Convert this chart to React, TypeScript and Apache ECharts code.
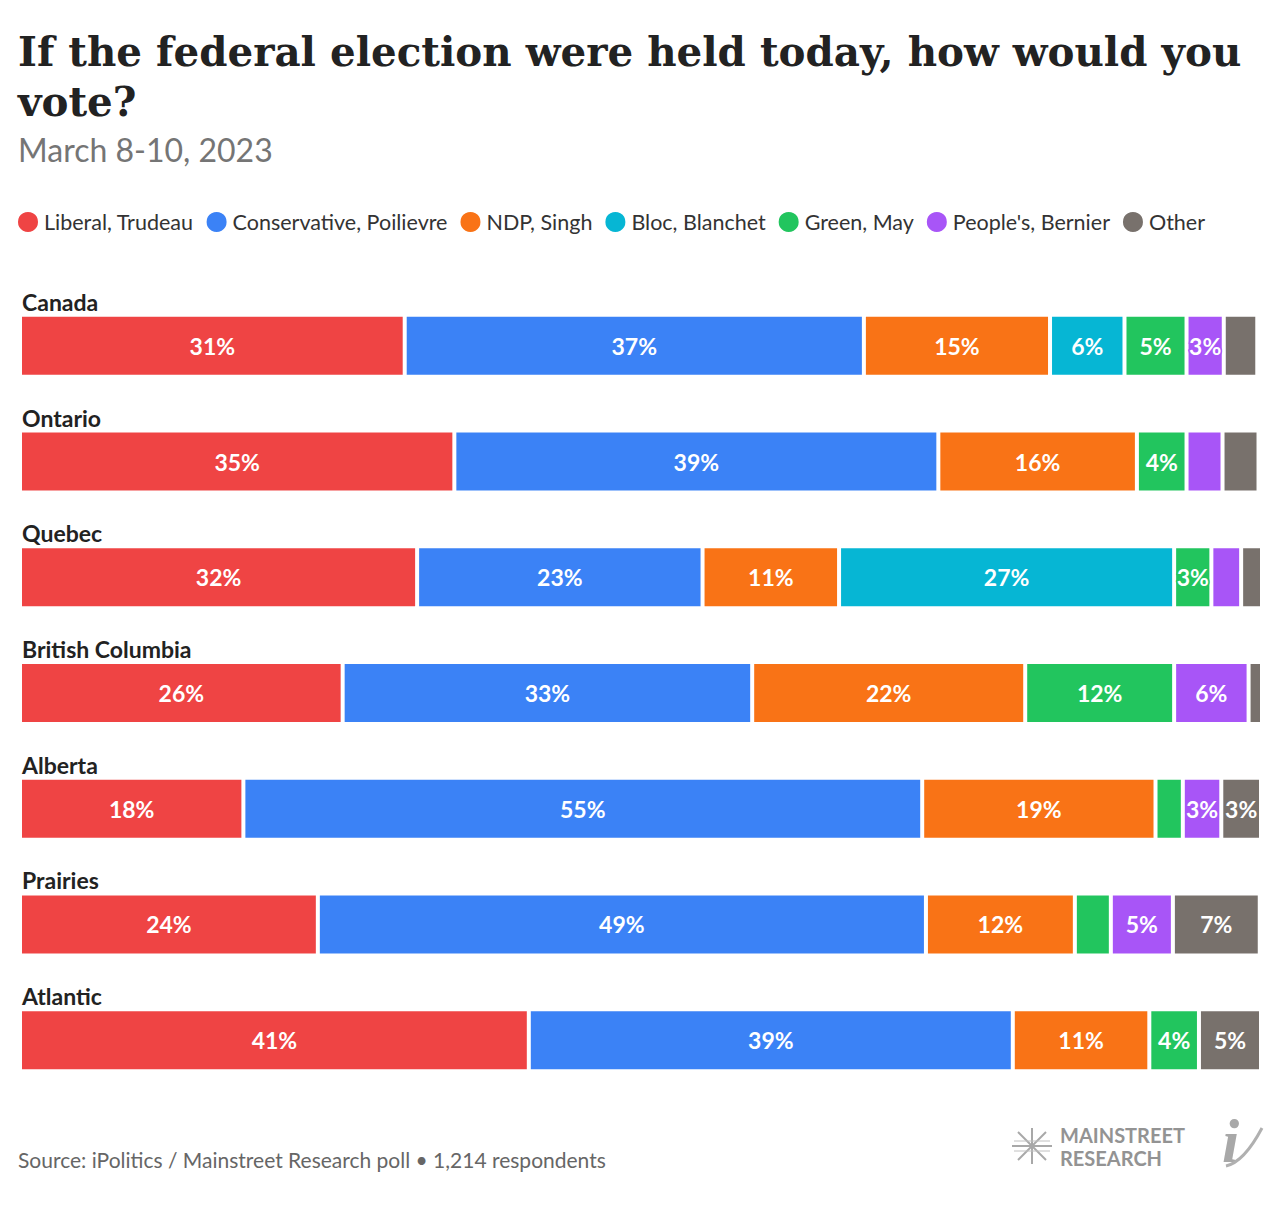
import React, { useEffect, useRef } from "react";
import * as echarts from "echarts";

const regions = ["Canada", "Ontario", "Quebec", "British Columbia", "Alberta", "Prairies", "Atlantic"];
const parties = [
  "Liberal, Trudeau",
  "Conservative, Poilievre",
  "NDP, Singh",
  "Bloc, Blanchet",
  "Green, May",
  "People's, Bernier",
  "Other",
];
const colors = ["#EF4444", "#3B82F6", "#F97316", "#06B6D4", "#22C55E", "#A855F7", "#78716C"];

// values per party, in region order (unlabelled slivers estimated from their widths)
const liberal = [31, 35, 32, 26, 18, 24, 41];
const conservative = [37, 39, 23, 33, 54.7, 49, 39];
const ndp = [15, 16, 11, 22, 18.8, 12, 11];
const bloc = [6, 0, 27, 0, 0, 0, 0];
const green = [5, 4, 3, 12, 2.2, 2.9, 4];
const peoples = [3, 2.9, 2.4, 6, 3.1, 5, 0];
const other = [2.7, 2.9, 1.8, 1.1, 3.2, 7, 5];

const seriesValues = [liberal, conservative, ndp, bloc, green, peoples, other];

const SANS = "Lato, 'Noto Sans', sans-serif";

export default function App() {
  const ref = useRef<HTMLDivElement>(null);
  useEffect(() => {
    if (!ref.current) return;
    const chart = echarts.init(ref.current, null, { renderer: "svg" });
    const series = parties.map((name, i) => ({
      name,
      type: "bar",
      stack: "total",
      barWidth: 62,
      data: seriesValues[i],
      itemStyle: { color: colors[i], borderColor: "#ffffff", borderWidth: 2 },
      label: {
        show: true,
        position: "inside",
        formatter: (p: any) => (p.value >= 3 ? Math.round(p.value) + "%" : ""),
        color: "#ffffff",
        fontWeight: "bold",
        fontSize: 23,
        fontFamily: SANS,
        textBorderColor: colors[i],
        textBorderWidth: 3,
      },
      emphasis: { disabled: true },
    }));
    chart.setOption({
      animation: false,
      backgroundColor: "#ffffff",
      color: colors,
      legend: {
        left: 16,
        top: 210,
        padding: 0,
        icon: "circle",
        itemWidth: 22,
        itemHeight: 22,
        itemGap: 11,
        selectedMode: false,
        textStyle: { fontSize: 21.5, color: "#333333", fontFamily: SANS },
        data: parties,
      },
      grid: { left: 20, right: 19, top: 288, bottom: 110, containLabel: false },
      xAxis: { type: "value", min: 0, max: 100, show: false },
      yAxis: {
        type: "category",
        data: regions,
        inverse: true,
        axisLine: { show: false },
        axisTick: { show: false },
        splitLine: { show: false },
        axisLabel: {
          inside: true,
          margin: 2,
          align: "left",
          verticalAlign: "bottom",
          padding: [0, 0, 32, 0],
          lineHeight: 24,
          fontSize: 23,
          fontWeight: "bold",
          color: "#222222",
          fontFamily: SANS,
        },
      },
      series,
      graphic: [
        {
          type: "text",
          left: 18,
          top: 27,
          style: {
            text: "If the federal election were held today, how would you\nvote?",
            font: "bold 40.4px 'DejaVu Serif', serif",
            lineHeight: 50,
            fill: "#222222",
          },
        },
        {
          type: "text",
          left: 18,
          top: 133,
          style: {
            text: "March 8-10, 2023",
            font: "32px " + SANS,
            fill: "#757575",
          },
        },
        {
          type: "text",
          left: 18,
          top: 1149,
          style: {
            text: "Source: iPolitics / Mainstreet Research poll \u2022 1,214 respondents",
            font: "21px " + SANS,
            fill: "#666666",
          },
        },
        {
          type: "text",
          left: 1060,
          top: 1125,
          style: {
            text: "MAINSTREET",
            font: "bold 20px " + SANS,
            fill: "#939393",
          },
        },
        {
          type: "text",
          left: 1060,
          top: 1148,
          style: {
            text: "RESEARCH",
            font: "bold 20px " + SANS,
            fill: "#939393",
          },
        },
        {
          type: "group",
          x: 1032,
          y: 1146,
          children: [
            { type: "line", shape: { x1: -20, y1: 0, x2: 20, y2: 0 }, style: { stroke: "#a8a8a8", lineWidth: 2 } },
            { type: "line", shape: { x1: 0, y1: -18, x2: 0, y2: 18 }, style: { stroke: "#a8a8a8", lineWidth: 2 } },
            { type: "line", shape: { x1: -14, y1: -14, x2: 14, y2: 14 }, style: { stroke: "#a8a8a8", lineWidth: 2 } },
            { type: "line", shape: { x1: -14, y1: 14, x2: 14, y2: -14 }, style: { stroke: "#a8a8a8", lineWidth: 2 } },
            { type: "line", shape: { x1: -18, y1: 5, x2: 18, y2: 5 }, style: { stroke: "#c0c0c0", lineWidth: 1 } },
            { type: "line", shape: { x1: -18, y1: -5, x2: 18, y2: -5 }, style: { stroke: "#c0c0c0", lineWidth: 1 } },
          ],
        },
        {
          type: "text",
          left: 1222,
          top: 1110,
          style: {
            text: "i",
            font: "italic bold 62px 'Liberation Serif', serif",
            fill: "#a8a8a8",
          },
        },
        {
          type: "bezierCurve",
          shape: { x1: 1226, y1: 1166, cpx1: 1244, cpy1: 1162, x2: 1262, y2: 1128 },
          style: { stroke: "#b0b0b0", lineWidth: 3, fill: "none" },
        },
      ],
    });
    return () => chart.dispose();
  }, []);
  return (
    <div
      ref={ref}
      style={{ position: "absolute", left: 0, top: 0, width: 1280, height: 1208 }}
    />
  );
}
